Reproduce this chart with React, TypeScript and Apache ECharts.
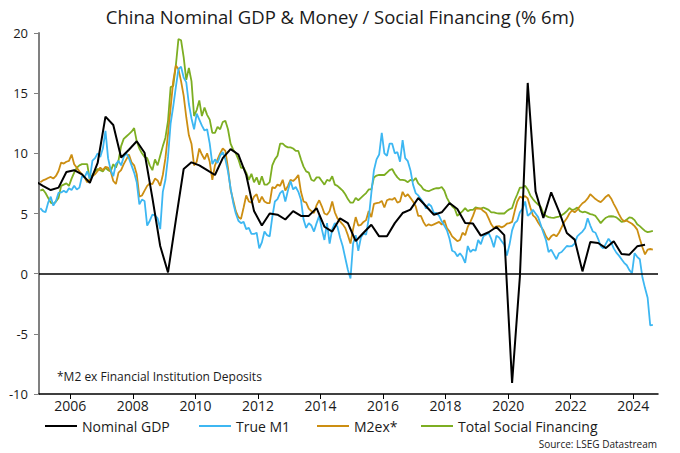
import React, { useEffect, useRef } from "react";
import * as echarts from "echarts";

// Monthly series start Jan 2005 (plotted mid-month); GDP is quarterly, first point Q4 2004 (mid-quarter)
const MONTH_START = 2005;
const GDP_START = 2004.875;
const yearTicks = [2006, 2008, 2010, 2012, 2014, 2016, 2018, 2020, 2022, 2024];

const nominalGdp = [
  7.7,
  7.3, 6.95, 7.15, 8.45,
  8.6, 8.25, 7.55, 9.2,
  13.05, 12.35, 9.65, 10.3,
  11.0, 10.05, 6.3, 2.3,
  0.1, 4.45, 8.7, 9.25,
  9.0, 8.6, 8.2, 9.6,
  10.35, 9.9, 8.2, 5.2,
  4.0, 5.0, 4.9, 4.5,
  5.2, 4.8, 4.8, 5.45,
  3.9, 3.5, 4.6, 4.2,
  2.7, 3.4, 4.07, 3.1,
  3.1, 4.2, 5.04, 5.32,
  6.29, 5.6, 4.9, 5.1,
  5.87, 5.38, 4.21, 4.16,
  3.16, 3.44, 3.88, 3.2,
  -9.09, -0.22, 15.85, 6.84,
  4.63, 6.76, 5.18, 3.38,
  2.83, 0.19, 2.63, 2.55,
  2.13, 2.69, 1.63, 1.58,
  2.27, 2.41,
];

const trueM1 = [
  5.45, 5.2, 5.1, 5.9, 6.4, 5.65, 6.04, 6.73, 6.75, 6.9, 6.75, 7.1,
  6.95, 7.3, 7.0, 7.15, 8.1, 8.0, 8.5, 7.9, 9.4, 9.6, 10.0, 9.7,
  10.4, 11.86, 9.6, 8.6, 8.1, 9.1, 9.37, 9.0, 9.7, 10.0, 9.6, 9.0,
  8.4, 7.6, 5.76, 6.15, 6.04, 4.0, 4.4, 4.9, 4.85, 4.6, 3.7, 6.8,
  7.8, 9.7, 12.5, 13.9, 15.5, 17.0, 17.2, 16.3, 15.9, 14.1, 12.9, 12.0,
  13.3, 12.8, 12.3, 11.9, 12.0, 10.8, 9.1, 9.5, 9.2, 9.8, 10.1, 9.5,
  8.5, 7.1, 5.9, 5.0, 4.4, 4.2, 4.3, 3.7, 3.8, 3.3, 3.3, 3.4,
  2.1, 2.6, 3.5, 3.2, 3.1, 4.7, 6.0, 6.2, 6.7, 6.9, 6.0, 6.9,
  7.7, 7.0, 7.2, 6.8, 6.15, 4.5, 3.8, 4.2, 4.0, 3.5, 4.2, 4.8,
  3.7, 2.8, 4.2, 2.5, 3.7, 4.2, 3.9, 3.0, 2.3, 1.3, 0.33, -0.4,
  2.5, 3.2, 1.9, 3.0, 3.35, 3.25, 4.6, 6.7, 8.6, 9.5, 9.9, 11.7,
  10.0, 9.8, 10.8, 10.8, 10.0, 10.1, 9.3, 11.1, 9.6, 9.35, 8.6, 7.4,
  6.7, 6.5, 6.2, 5.9, 5.4, 5.8, 5.6, 5.04, 5.04, 4.8, 4.35, 4.0,
  3.6, 2.9, 1.9, 1.8, 1.44, 1.7, 1.4, 0.9, 2.3, 1.8, 2.0, 1.9,
  2.8, 2.45, 3.1, 3.24, 3.38, 2.9, 2.2, 3.15, 3.0, 2.7, 2.4, 1.5,
  2.4, 3.6, 4.2, 4.4, 5.1, 5.4, 6.0, 4.8, 5.0, 5.3, 5.0, 4.7,
  4.07, 3.4, 2.8, 1.8, 2.0, 1.6, 1.2, 1.7, 1.8, 2.05, 2.3, 2.27,
  2.3, 2.5, 3.1, 3.3, 3.5, 3.8, 4.6, 4.0, 3.5, 3.4, 2.9, 2.3,
  2.1, 2.5, 2.9, 2.6, 2.1, 1.75, 1.5, 1.2, 0.9, 0.7, 0.3, 0.05,
  1.7, 1.4, 1.2, -0.3, -1.2, -2.0, -4.3, -4.25,
];

const m2ex = [
  7.6, 7.75, 7.84, 7.95, 8.04, 7.9, 8.12, 8.53, 9.23, 9.15, 9.3, 9.37,
  9.9, 9.1, 8.8, 8.5, 8.26, 7.98, 7.6, 7.84, 8.12, 8.26, 8.53, 8.81,
  8.6, 8.87, 8.81, 8.5, 7.7, 7.45, 8.4, 8.6, 9.1, 9.5, 9.9, 9.25,
  9.0, 8.26, 6.4, 6.5, 6.9, 7.3, 7.5, 7.45, 7.9, 7.75, 7.3, 8.2,
  9.6, 11.6, 13.8, 16.0, 17.3, 17.0, 16.0, 14.8, 13.0, 11.5, 10.8, 9.0,
  9.3, 10.4, 9.9, 9.5, 10.0, 9.3, 7.8, 9.0, 9.5, 10.0, 10.4, 10.2,
  8.8, 7.0, 6.1, 5.2, 4.7, 4.55, 5.5, 6.5, 6.0, 5.9, 6.4, 6.6,
  5.9, 6.4, 6.0, 5.87, 5.87, 7.2, 7.1, 7.4, 7.3, 7.8, 6.9, 7.3,
  7.8, 7.7, 7.9, 8.2, 6.8, 6.0, 5.9, 5.4, 5.2, 5.04, 5.7, 6.1,
  5.6, 5.0, 4.9, 5.2, 6.0, 5.1, 4.6, 4.35, 4.1, 3.8, 3.2, 2.5,
  3.7, 4.7, 4.0, 4.05, 4.3, 4.45, 5.2, 4.7, 5.8, 5.87, 5.9, 6.05,
  5.5, 6.1, 6.2, 6.15, 6.3, 5.9, 6.0, 6.8, 6.4, 6.6, 6.3, 6.0,
  5.6, 4.8, 4.8, 4.3, 3.95, 4.1, 4.0, 4.1, 4.2, 4.3, 4.07, 4.45,
  3.8, 3.5, 3.1, 2.9, 2.7, 2.8, 3.4, 3.2, 3.9, 4.3, 4.8, 5.4,
  5.4, 5.4, 5.2, 5.05, 4.6, 4.1, 3.8, 3.93, 3.95, 3.85, 3.95, 4.15,
  4.2, 4.3, 5.2, 6.0, 6.4, 6.3, 6.45, 6.25, 5.5, 4.85, 4.65, 4.25,
  3.93, 3.6, 3.1, 2.8, 3.1, 3.25, 3.1, 3.4, 3.85, 4.3, 4.6, 5.0,
  5.25, 5.1, 5.3, 5.6, 5.85, 6.0, 6.25, 6.6, 6.4, 6.2, 6.05, 5.95,
  6.15, 6.4, 6.55, 6.25, 5.8, 5.4, 4.95, 4.55, 4.35, 4.4, 4.27, 4.15,
  3.95, 3.66, 2.9, 2.2, 1.6, 2.0, 2.05, 2.0,
];

const totalSocialFinancing = [
  6.9, 7.0, 6.7, 6.3, 5.9, 5.8, 6.0, 6.3, 7.3, 7.4, 7.5, 7.3,
  7.9, 8.4, 8.8, 9.0, 9.1, 9.1, 9.1, 7.8, 8.2, 8.5, 8.7, 8.6,
  8.5, 8.8, 8.6, 8.5, 9.1, 8.8, 9.4, 10.6, 11.2, 11.4, 11.6, 11.8,
  12.1, 11.0, 10.4, 10.0, 9.7, 9.6, 9.0, 8.6, 9.5, 9.0, 9.8, 10.6,
  11.3, 12.7, 15.5, 15.6, 17.3, 19.5, 19.4, 18.0, 16.1, 17.1, 16.0, 13.1,
  13.6, 14.4, 13.1, 13.8, 13.2, 12.8, 11.7, 11.7, 12.2, 12.0, 12.6, 12.7,
  12.0, 10.8, 10.3, 10.0, 9.5, 8.8, 8.8, 8.4, 7.8, 8.3, 7.6, 8.0,
  7.4, 8.1, 7.4, 7.4, 7.6, 9.0, 9.5, 9.8, 10.8, 10.8, 10.6, 10.5,
  10.5, 10.4, 10.2, 10.2, 9.5, 8.9, 8.5, 8.4, 7.8, 7.7, 8.0, 8.0,
  7.7, 7.4, 7.8, 7.7, 8.1, 7.4, 7.3, 7.1, 6.9, 6.6, 6.2, 5.9,
  5.9, 6.3, 6.1, 6.3, 6.5, 6.7, 7.0, 7.0, 8.0, 8.15, 8.2, 8.2,
  8.2, 8.4, 8.6, 8.7, 8.3, 8.0, 7.8, 7.8, 7.75, 7.6, 7.8, 7.7,
  7.95, 7.5, 7.3, 7.0, 6.9, 6.85, 6.95, 7.05, 7.1, 7.1, 7.2, 6.9,
  6.3, 5.9, 5.6, 5.4, 4.8, 5.0, 5.2, 5.45, 5.2, 5.3, 5.3, 5.5,
  5.45, 5.4, 5.5, 5.4, 5.3, 5.1, 5.1, 5.04, 5.0, 5.0, 5.0, 5.2,
  5.35, 5.45, 6.1, 6.6, 7.15, 7.15, 7.3, 7.0, 6.5, 6.2, 5.95, 5.75,
  5.55, 5.0, 4.8, 4.7, 4.65, 4.63, 4.7, 4.75, 4.85, 5.0, 5.2, 5.45,
  5.3, 5.35, 5.5, 5.2, 5.1, 5.15, 5.05, 4.95, 4.9, 4.8, 4.5, 4.2,
  4.45, 4.65, 4.75, 4.77, 4.75, 4.68, 4.5, 4.3, 4.35, 4.5, 4.68, 4.63,
  4.45, 4.1, 3.95, 3.75, 3.55, 3.45, 3.5, 3.55,
];

const seriesNames = ["Nominal GDP", "True M1", "M2ex*", "Total Social Financing"];
const seriesColors = ["#000000", "#3DB7F2", "#CC8E12", "#7DAE22"];

const FONT = "'Open Sans', 'Noto Sans', sans-serif";

const monthly = (arr: number[]) => arr.map((v, i) => [MONTH_START + (i + 0.5) / 12, v]);
const quarterly = (arr: number[]) => arr.map((v, i) => [GDP_START + i * 0.25, v]);

export default function App() {
  const ref = useRef<HTMLDivElement>(null);

  useEffect(() => {
    if (!ref.current) return;
    const chart = echarts.init(ref.current, undefined, { renderer: "svg" });
    const legendLefts = [45, 199, 317, 421];
    const option: any = {
      animation: false,
      title: {
        text: "China Nominal GDP & Money / Social Financing (% 6m)",
        left: "center",
        top: 2,
        textStyle: { fontFamily: FONT, fontSize: 18.5, fontWeight: "normal", color: "#1a1a1a" },
      },
      grid: { left: 39, right: 22, top: 33, bottom: 59 },
      xAxis: {
        type: "value",
        min: 2005,
        max: 2024.79,
        splitLine: { show: false },
        axisLine: { onZero: false, lineStyle: { color: "#000", width: 1.5 } },
        axisTick: { show: true, customValues: yearTicks, length: 5, lineStyle: { color: "#000" } },
        axisLabel: {
          customValues: yearTicks,
          formatter: (v: number) => String(Math.round(v)),
          fontFamily: FONT,
          fontSize: 14,
          color: "#1a1a1a",
          margin: 4,
        },
      },
      yAxis: {
        type: "value",
        min: -10,
        max: 20,
        interval: 5,
        splitLine: { show: false },
        axisLine: { show: true, onZero: false, lineStyle: { color: "#808080", width: 2 } },
        axisTick: { show: true, length: 5, lineStyle: { color: "#808080" } },
        axisLabel: { fontFamily: FONT, fontSize: 13, color: "#1a1a1a", margin: 11 },
      },
      legend: seriesNames.map((n, k) => ({
        data: [n],
        left: legendLefts[k],
        top: 419,
        padding: 0,
        icon: "rect",
        itemWidth: 32,
        itemHeight: 2,
        itemGap: 0,
        textStyle: { fontFamily: FONT, fontSize: 14, color: "#1a1a1a" },
      })),
      graphic: [
        {
          type: "text",
          x: 57,
          y: 376,
          style: {
            text: "*M2 ex Financial Institution Deposits",
            fontFamily: FONT,
            fontSize: 12,
            fill: "#1a1a1a",
            align: "left",
            verticalAlign: "middle",
          },
        },
        {
          type: "text",
          x: 657,
          y: 443.5,
          style: {
            text: "Source: LSEG Datastream",
            fontFamily: FONT,
            fontSize: 10,
            fill: "#1a1a1a",
            align: "right",
            verticalAlign: "middle",
          },
        },
      ],
      series: [
        {
          name: seriesNames[3],
          type: "line",
          data: monthly(totalSocialFinancing),
          symbol: "none",
          color: seriesColors[3],
          lineStyle: { color: seriesColors[3], width: 1.8 },
          z: 2,
        },
        {
          name: seriesNames[2],
          type: "line",
          data: monthly(m2ex),
          symbol: "none",
          color: seriesColors[2],
          lineStyle: { color: seriesColors[2], width: 1.8 },
          z: 3,
        },
        {
          name: seriesNames[1],
          type: "line",
          data: monthly(trueM1),
          symbol: "none",
          color: seriesColors[1],
          lineStyle: { color: seriesColors[1], width: 1.8 },
          z: 4,
        },
        {
          name: seriesNames[0],
          type: "line",
          data: quarterly(nominalGdp),
          symbol: "none",
          color: seriesColors[0],
          lineStyle: { color: seriesColors[0], width: 2 },
          z: 5,
          markLine: {
            silent: true,
            symbol: "none",
            label: { show: false },
            lineStyle: { color: "#000", width: 1.5, type: "solid" },
            data: [{ yAxis: 0 }],
          },
        },
      ],
    };
    chart.setOption(option);
    return () => chart.dispose();
  }, []);

  return (
    <div
      ref={ref}
      style={{ position: "fixed", left: 0, top: 0, width: 680, height: 453, background: "#fff" }}
    />
  );
}
